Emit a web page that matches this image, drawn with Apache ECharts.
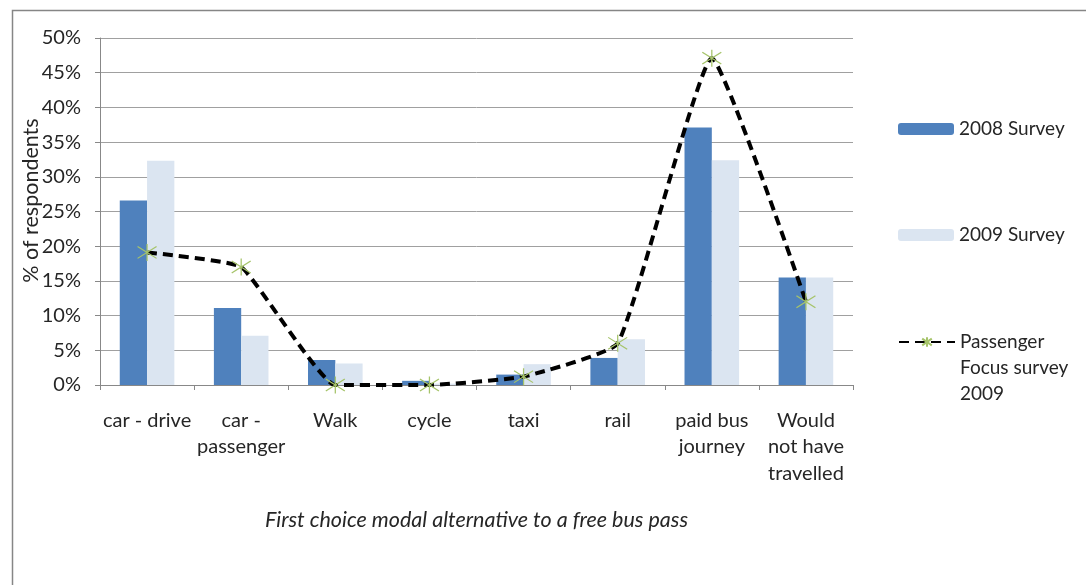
<!DOCTYPE html>
<html>
<head>
<meta charset="utf-8">
<script src="https://cdn.jsdelivr.net/npm/echarts@6/dist/echarts.min.js"></script>
<style>
  html, body { margin: 0; padding: 0; background: #fff; }
  #chart { width: 1086px; height: 585px; }
</style>
</head>
<body>
<div id="chart"></div>
<script>
// Modal alternatives to a free bus pass (% of respondents)
const categories = ['car - drive', 'car -\npassenger', 'Walk', 'cycle', 'taxi', 'rail', 'paid bus\njourney', 'Would\nnot have\ntravelled'];
const survey2008 = [26.6, 11.1, 3.6, 0.6, 1.5, 3.9, 37.1, 15.5];
const survey2009 = [32.3, 7.1, 3.1, 0.2, 3.0, 6.6, 32.4, 15.5];
const passengerFocus2009 = [19.1, 17.0, 0, 0, 1.2, 6.0, 47.1, 12.0];
const yTicks = { min: 0, max: 50, step: 5 };

const FONT = 'Lato';
const TEXT = '#262626';
// six-armed asterisk marker (stroked, not filled)
const asterisk = 'path://M10,0L10,20M1,3L19,17M1,17L19,3';

const chart = echarts.init(document.getElementById('chart'), null, { renderer: 'canvas' });

const legendBase = {
  orient: 'vertical',
  left: 893,
  itemWidth: 56,
  itemHeight: 12,
  itemGap: 0,
  textStyle: { fontFamily: FONT, fontSize: 19, color: TEXT, lineHeight: 26 }
};

chart.setOption({
  backgroundColor: '#fff',
  animation: false,
  grid: { left: 100, right: 233, top: 38, bottom: 200, containLabel: false },
  legend: [
    Object.assign({}, legendBase, { top: 111, data: ['2008 Survey'] }),
    Object.assign({}, legendBase, { top: 217, data: ['2009 Survey'] }),
    Object.assign({}, legendBase, {
      top: 272,
      data: ['Passenger\nFocus survey\n2009'],
      // two leading blank lines keep the icon level with the first text line
      formatter: function (name) { return '\n\n' + name; }
    })
  ],
  xAxis: {
    type: 'category',
    data: categories,
    name: 'First choice modal alternative to a free bus pass',
    nameLocation: 'middle',
    nameGap: 124,
    nameMoveOverlap: false,
    nameTextStyle: { fontFamily: FONT, fontSize: 21.5, fontStyle: 'italic', color: TEXT },
    axisLine: { lineStyle: { color: '#888', width: 1 } },
    axisTick: { show: true, length: 5, lineStyle: { color: '#888' } },
    axisLabel: { fontFamily: FONT, fontSize: 20, color: TEXT, margin: 22, lineHeight: 26.5, interval: 0 }
  },
  yAxis: {
    type: 'value',
    min: yTicks.min,
    max: yTicks.max,
    interval: yTicks.step,
    name: '% of respondents',
    nameLocation: 'middle',
    nameGap: 58,
    nameMoveOverlap: false,
    nameTextStyle: { fontFamily: FONT, fontSize: 21.5, color: TEXT, padding: [0, 0, 0, 22] },
    axisLine: { show: true, lineStyle: { color: '#888', width: 1 } },
    axisTick: { show: true, length: 5, lineStyle: { color: '#888' } },
    axisLabel: { fontFamily: FONT, fontSize: 20, color: TEXT, margin: 19, formatter: '{value}%' },
    splitLine: { lineStyle: { color: '#a0a0a0', width: 1 } }
  },
  series: [
    {
      name: '2008 Survey',
      type: 'bar',
      data: survey2008,
      barGap: '0%',
      barCategoryGap: '42%',
      itemStyle: { color: '#4f81bd' }
    },
    {
      name: '2009 Survey',
      type: 'bar',
      data: survey2009,
      itemStyle: { color: '#dbe5f1' }
    },
    {
      name: 'Passenger\nFocus survey\n2009',
      type: 'line',
      data: passengerFocus2009,
      smooth: 0.12,
      symbol: asterisk,
      symbolSize: [19, 17],
      showAllSymbol: true,
      itemStyle: { color: 'rgba(0,0,0,0)', borderColor: '#a6c46a', borderWidth: 1.2 },
      lineStyle: { color: '#000', width: 4, type: [10, 6] },
      z: 5
    }
  ],
  graphic: [
    {
      type: 'rect',
      left: 10,
      top: 8,
      shape: { width: 1120, height: 620 },
      style: { fill: 'none', stroke: '#868686', lineWidth: 1.5 },
      silent: true,
      z: -1
    }
  ]
});
</script>
</body>
</html>
